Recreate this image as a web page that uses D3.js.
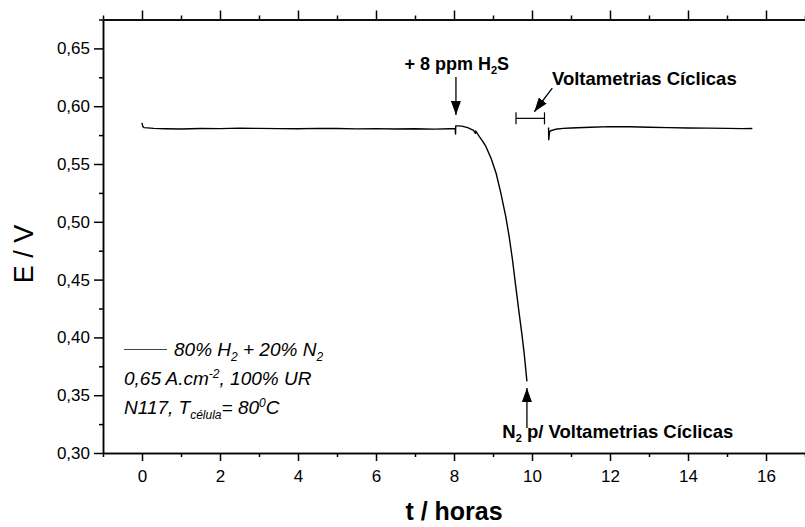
<!DOCTYPE html>
<html>
<head>
<meta charset="utf-8">
<script src="https://cdn.jsdelivr.net/npm/d3@7"></script>
<style>
  body { margin:0; background:#fff; }
  svg { display:block; font-family:"Liberation Sans", Arial, sans-serif; }
</style>
</head>
<body>
<svg id="chart" width="805" height="527"></svg>
<script>
// E (V) versus t (horas), two recorded stretches with a gap for the cyclic voltammetry
var t1 = [0, 0.02, 0.05, 0.3, 0.6, 1.0, 1.5, 2.0, 2.5, 3.0, 3.5, 4.0, 4.5, 5.0, 5.5, 6.0, 6.5, 7.0, 7.5, 7.9,
          8.03, 8.04, 8.045, 8.1, 8.2, 8.35, 8.5, 8.55, 8.56, 8.65, 8.75, 8.82, 8.95, 9.08, 9.2, 9.33, 9.42, 9.5,
          9.58, 9.67, 9.74, 9.8, 9.87];
var e1 = [0.5855, 0.5825, 0.5815, 0.5808, 0.5805, 0.5803, 0.5807, 0.5806, 0.5810, 0.5808, 0.5806, 0.5805, 0.5808,
          0.5807, 0.5804, 0.5806, 0.5803, 0.5805, 0.5802, 0.5805,
          0.5805, 0.5760, 0.5830, 0.5830, 0.5828, 0.5815, 0.5790, 0.5765, 0.5785, 0.5737, 0.5690, 0.5650, 0.5550,
          0.5420, 0.5250, 0.5040, 0.4860, 0.4670, 0.4450, 0.4210, 0.4030, 0.3860, 0.3620];
var t2 = [10.425, 10.43, 10.45, 10.5, 10.6, 10.8, 11.0, 11.5, 12.0, 12.5, 13.0, 13.5, 14.0, 14.5, 15.0, 15.4, 15.65];
var e2 = [0.5815, 0.5710, 0.5780, 0.5790, 0.5800, 0.5808, 0.5812, 0.5818, 0.5823, 0.5822, 0.5818, 0.5815,
          0.5812, 0.5810, 0.5808, 0.5806, 0.5807];

var xMajor = [0, 2, 4, 6, 8, 10, 12, 14, 16];
var xMinor = [-1, 1, 3, 5, 7, 9, 11, 13, 15, 17];
var yMajor = [0.30, 0.35, 0.40, 0.45, 0.50, 0.55, 0.60, 0.65];
var yMinor = [0.325, 0.375, 0.425, 0.475, 0.525, 0.575, 0.625, 0.675];

var svg = d3.select("#chart");
var x = d3.scaleLinear().domain([-1, 17]).range([103, 805]);
var y = d3.scaleLinear().domain([0.30, 0.675]).range([453, 19.5]);
var comma = function(d){ return d.toFixed(2).replace(".", ","); };

var styleAxis = function(g){
   g.selectAll("path,line").attr("stroke", "#000").attr("stroke-width", 1.5);
   g.selectAll("text").attr("fill", "#000").style("font-family", "Liberation Sans, Arial, sans-serif");
};

// bottom axis
svg.append("g").attr("transform", "translate(0," + y(0.30) + ")")
   .call(d3.axisBottom(x).tickValues(xMajor).tickSize(8).tickSizeOuter(0).tickPadding(9).tickFormat(d3.format("d")))
   .call(styleAxis).selectAll("text").style("font-size", "17px");
svg.append("g").attr("transform", "translate(0," + y(0.30) + ")")
   .call(d3.axisBottom(x).tickValues(xMinor).tickSize(4).tickSizeOuter(0).tickFormat(""))
   .call(styleAxis);
// top axis
svg.append("g").attr("transform", "translate(0," + y(0.675) + ")")
   .call(d3.axisTop(x).tickValues(xMajor).tickSize(9).tickSizeOuter(0).tickFormat(""))
   .call(styleAxis);
svg.append("g").attr("transform", "translate(0," + y(0.675) + ")")
   .call(d3.axisTop(x).tickValues(xMinor).tickSize(4).tickSizeOuter(0).tickFormat(""))
   .call(styleAxis);
// left axis
svg.append("g").attr("transform", "translate(" + x(-1) + ",0)")
   .call(d3.axisLeft(y).tickValues(yMajor).tickSize(9).tickSizeOuter(0).tickPadding(4).tickFormat(comma))
   .call(styleAxis).selectAll("text").style("font-size", "17px");
svg.append("g").attr("transform", "translate(" + x(-1) + ",0)")
   .call(d3.axisLeft(y).tickValues(yMinor).tickSize(4).tickSizeOuter(0).tickFormat(""))
   .call(styleAxis);

// axis titles
svg.append("text").attr("transform", "translate(33," + 254 + ") rotate(-90)")
   .attr("text-anchor", "middle").style("font-size", "27px").text("E / V");
svg.append("text").attr("x", 454).attr("y", 520)
   .attr("text-anchor", "middle").style("font-size", "25px").style("font-weight", "bold").text("t / horas");

// data line
var line = d3.line().x(function(d){ return x(d[0]); }).y(function(d){ return y(d[1]); });
[[t1, e1], [t2, e2]].forEach(function(s){
   svg.append("path").datum(d3.zip(s[0], s[1]))
      .attr("d", line).attr("fill", "none").attr("stroke", "#000")
      .attr("stroke-width", 1.4).attr("stroke-linejoin", "round");
});

// arrow marker
svg.append("defs").append("marker").attr("id", "head")
   .attr("markerUnits", "userSpaceOnUse").attr("markerWidth", 14).attr("markerHeight", 10)
   .attr("viewBox", "0 0 14 10").attr("refX", 14).attr("refY", 5).attr("orient", "auto")
   .append("path").attr("d", "M0,0 L14,5 L0,10 Z").attr("fill", "#000");

var arrow = function(xa, ya, xb, yb){
   svg.append("line").attr("x1", x(xa)).attr("y1", y(ya)).attr("x2", x(xb)).attr("y2", y(yb))
      .attr("stroke", "#000").attr("stroke-width", 1.3).attr("marker-end", "url(#head)");
};
var boldText = function(xa, ya, parts){
   var t = svg.append("text").attr("x", x(xa)).attr("y", y(ya)).attr("text-anchor", "middle")
      .style("font-size", "18px").style("font-weight", "bold");
   parts.forEach(function(p){
      t.append("tspan").attr("dy", p[1]).style("font-size", p[2] || null).text(p[0]);
   });
   return t;
};

// + 8 ppm H2S
boldText(8.07, 0.6313, [["+ 8 ppm H", 0], ["2", 4, "11px"], ["S", -4]]);
arrow(8.05, 0.6253, 8.05, 0.5924);

// Voltametrias Ciclicas bracket
boldText(12.88, 0.6183, [["Voltametrias Cíclicas", 0]]).style("font-size", "18.5px");
arrow(10.52, 0.6157, 10.06, 0.5952);
var bx1 = x(9.59), bx2 = x(10.32), by = y(0.5895);
svg.append("line").attr("x1", bx1).attr("x2", bx2).attr("y1", by).attr("y2", by).attr("stroke", "#000").attr("stroke-width", 1.2);
[bx1, bx2].forEach(function(bx){
   svg.append("line").attr("x1", bx).attr("x2", bx).attr("y1", by - 6).attr("y2", by + 6).attr("stroke", "#000").attr("stroke-width", 1.2);
});

// N2 p/ Voltametrias Ciclicas
boldText(12.2, 0.313, [["N", 0], ["2", 4, "11px"], [" p/ Voltametrias Cíclicas", -4]]).style("font-size", "18.5px");
arrow(9.87, 0.3216, 9.87, 0.3562);

// legend
var ly = 349.5;
svg.append("line").attr("x1", 124).attr("x2", 167).attr("y1", ly).attr("y2", ly).attr("stroke", "#444").attr("stroke-width", 1);
var note = function(xp, yp, parts){
   var t = svg.append("text").attr("x", xp).attr("y", yp).style("font-size", "19px").style("font-style", "italic");
   parts.forEach(function(p){
      t.append("tspan").attr("dy", p[1]).style("font-size", p[2] || null).text(p[0]);
   });
};
note(174, 355.5, [["80% H", 0], ["2", 5, "12px"], [" + 20% N", -5], ["2", 5, "12px"]]);
note(124, 385, [["0,65 A.cm", 0], ["-2", -7, "12px"], [", 100% UR", 7]]);
note(124, 413.5, [["N117, T", 0], ["célula", 5, "12px"], ["= 80", -5], ["0", -7, "12px"], ["C", 7]]);
</script>
</body>
</html>
